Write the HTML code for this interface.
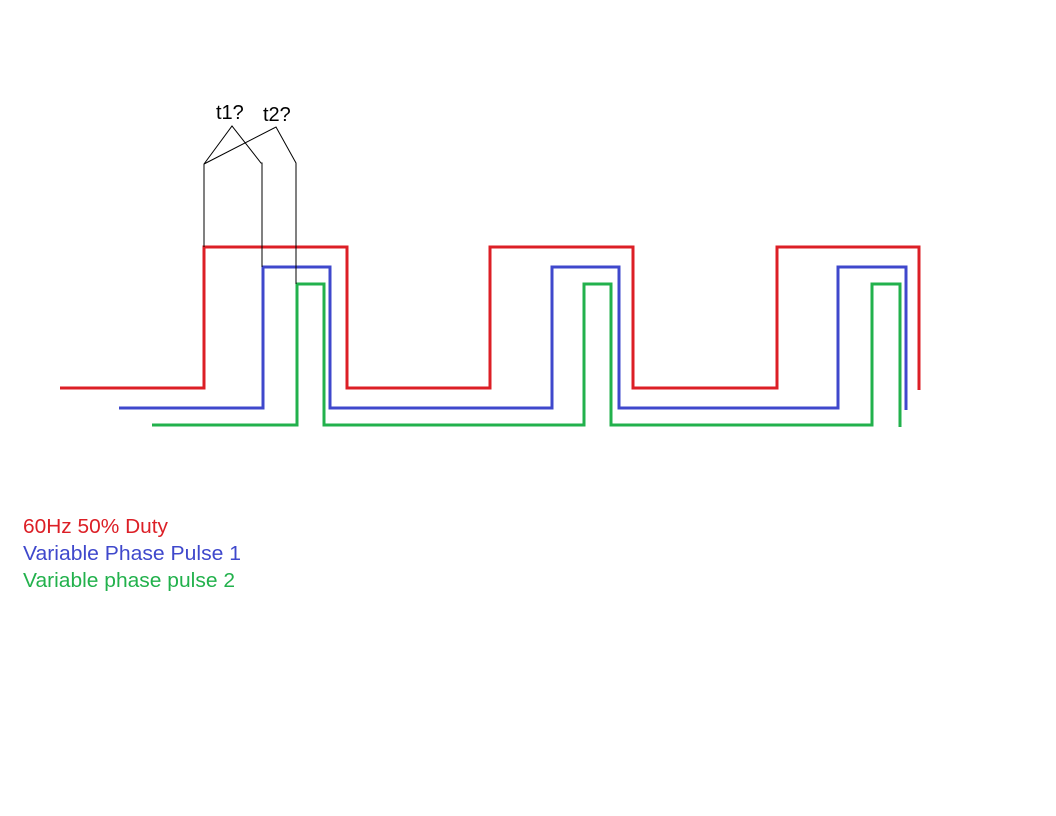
<!DOCTYPE html>
<html><head><style>html,body{margin:0;padding:0;background:#fff}svg{display:block}</style></head>
<body>
<svg width="1056" height="816" xmlns="http://www.w3.org/2000/svg" font-family="Liberation Sans, Arial, sans-serif">
<rect width="1056" height="816" fill="#fff"/>
<g fill="none" stroke-width="3" stroke-linejoin="miter">
<polyline stroke="#dc1f26" points="60,388 204,388 204,247 347,247 347,388 490,388 490,247 633,247 633,388 777,388 777,247 919,247 919,390"/>
<polyline stroke="#3f48cc" points="119,408 263,408 263,267 330,267 330,408 552,408 552,267 619,267 619,408 838,408 838,267 906,267 906,410"/>
<polyline stroke="#22b14c" points="152,425 297,425 297,284 324,284 324,425 584,425 584,284 611,284 611,425 872,425 872,284 900,284 900,427"/>
</g>
<g fill="none" stroke="#000" stroke-width="1">
<polyline points="204,247 204,164 232,126 261,163 262,163 262,267"/>
<polyline points="204,164 276,127 296,163 296,284"/>
</g>
<text x="216" y="119" font-size="20" fill="#000">t1?</text>
<text x="263" y="121" font-size="20" fill="#000">t2?</text>
<text x="23" y="533" font-size="20" fill="#dc1f26" textLength="145" lengthAdjust="spacingAndGlyphs">60Hz 50% Duty</text>
<text x="23" y="560" font-size="20" fill="#3f48cc" textLength="218" lengthAdjust="spacingAndGlyphs">Variable Phase Pulse 1</text>
<text x="23" y="587" font-size="20" fill="#22b14c" textLength="212" lengthAdjust="spacingAndGlyphs">Variable phase pulse 2</text>
</svg>
</body></html>
